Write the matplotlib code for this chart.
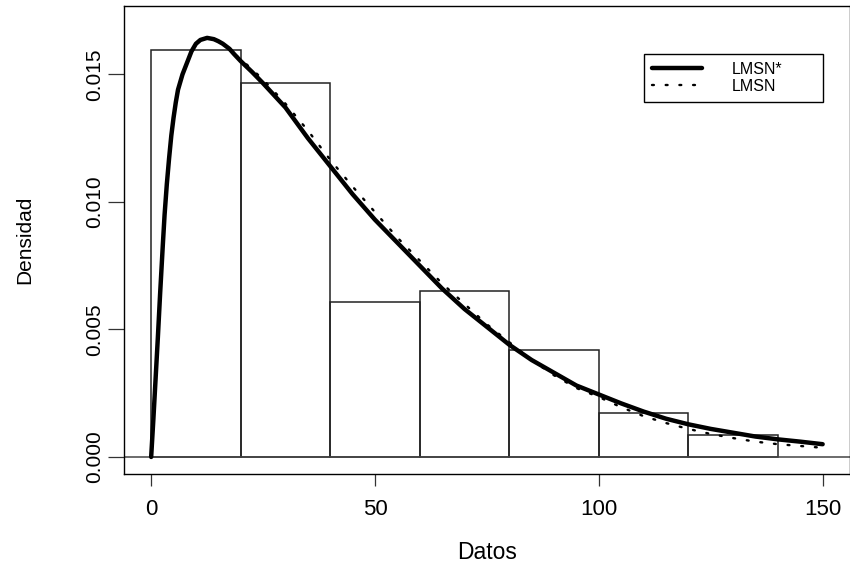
import numpy as np
import matplotlib.pyplot as plt

plt.rcParams['font.family'] = ['Liberation Sans', 'DejaVu Sans']

# Histograma (densidad por clase)
bin_left = [0, 20, 40, 60, 80, 100, 120]
bin_width = 20
dens_hist = [0.01595, 0.01467, 0.00606, 0.00649, 0.0042, 0.00174, 0.00085]

# Curva LMSN* (línea continua)
x_star = [0, 0.5, 1, 1.5, 2, 2.6, 3, 3.5, 4, 4.5, 5, 5.5, 6, 7, 8, 9, 10,
          11, 12.5, 14, 15, 16, 17.5, 18.5, 20, 22.5, 25, 30, 35, 40, 45,
          50, 55, 60, 65, 70, 75, 80, 85, 90, 95, 100, 105, 110, 115, 120,
          125, 130, 135, 140, 145, 150]
y_star = [0, 0.0015, 0.0031, 0.0047, 0.0064, 0.0083, 0.0095, 0.0107,
          0.0117, 0.0126, 0.0133, 0.0139, 0.0144, 0.0150, 0.01545, 0.0159,
          0.0162, 0.01635, 0.01643, 0.01638, 0.0163, 0.0162, 0.0160,
          0.0158, 0.01552, 0.0151, 0.01465, 0.0137, 0.0125, 0.0114,
          0.0103, 0.0093, 0.0084, 0.0075, 0.0066, 0.0058, 0.0051, 0.0044,
          0.0038, 0.0033, 0.0028, 0.00245, 0.0021, 0.00178, 0.0015,
          0.00128, 0.0011, 0.00095, 0.0008, 0.00069, 0.0006, 0.0005]

# Curva LMSN (punteada)
x_lmsn = [0, 0.5, 1, 1.5, 2, 2.6, 3, 3.5, 4, 4.5, 5, 5.5, 6, 7, 8, 9, 10,
          11, 12.5, 14, 15, 16, 17.5, 18.5, 20, 22.5, 25, 30, 35, 40, 45,
          50, 55, 60, 65, 70, 75, 80, 85, 90, 95, 100, 105, 110, 115, 120,
          125, 130, 135, 140, 145, 150]
y_lmsn = [0, 0.0015, 0.0031, 0.0047, 0.0064, 0.0083, 0.0095, 0.0107,
          0.0117, 0.0126, 0.0133, 0.0139, 0.0144, 0.0150, 0.01545, 0.0159,
          0.0162, 0.01635, 0.01643, 0.01638, 0.0163, 0.0162, 0.0160,
          0.0158, 0.0156, 0.0152, 0.0148, 0.01385, 0.0128, 0.01165,
          0.0106, 0.0096, 0.0086, 0.0077, 0.0068, 0.0060, 0.0052, 0.0045,
          0.0038, 0.0032, 0.0027, 0.00235, 0.00195, 0.0016, 0.00133,
          0.0011, 0.0009, 0.00074, 0.0006, 0.0005, 0.00043, 0.00036]

x_ticks = [0, 50, 100, 150]
y_ticks = [0.000, 0.005, 0.010, 0.015]
y_ticklabels = ['0.000', '0.005', '0.010', '0.015']

fig = plt.figure(figsize=(8.5, 5.71), dpi=100)
ax = fig.add_axes([0.14624, 0.16935, 0.85318, 0.82014])

ax.bar(bin_left, dens_hist, width=bin_width, align='edge', fill=False,
       edgecolor='#222222', linewidth=1.1)
ax.axhline(0, color='#444444', linewidth=1.1)

ax.plot(x_star, y_star, color='black', linewidth=3.2, solid_capstyle='round',
        solid_joinstyle='round', label='LMSN*')
ax.plot(x_lmsn, y_lmsn, color='black', linewidth=1.7,
        linestyle=(0, (0.8, 5.0)), dash_capstyle='round', label='LMSN')

ax.set_xlim(-6, 156)
ax.set_ylim(-0.00068, 0.01768)
ax.set_xticks(x_ticks)
ax.set_yticks(y_ticks)
ax.set_yticklabels(y_ticklabels)

for sp in ax.spines.values():
    sp.set_color('black')
    sp.set_linewidth(1.0)

ax.tick_params(axis='x', length=8.6, width=0.9, color='#333333', pad=9,
               labelsize=16)
ax.tick_params(axis='y', length=11.5, width=0.9, color='#333333', pad=3,
               labelsize=15)
for lab in ax.get_yticklabels():
    lab.set_rotation(90)
    lab.set_va('center')

ax.set_xlabel('Datos', fontsize=16.5)
ax.set_ylabel('Densidad', fontsize=15)
ax.xaxis.set_label_coords(0.5, -0.168)
ax.xaxis.label.set_va('center')
ax.yaxis.set_label_coords(-0.137, 0.5)
ax.yaxis.label.set_va('center')

leg = ax.legend(loc='upper left', bbox_to_anchor=(0.717, 0.8975, 0.246, 0),
                mode='expand', borderaxespad=0, fancybox=False,
                edgecolor='black', framealpha=1, fontsize=11.5,
                handlelength=3.1, handletextpad=1.9, borderpad=0.5,
                labelspacing=0.1)
leg.get_frame().set_linewidth(1.0)

fig.savefig('out.png', dpi=100)
